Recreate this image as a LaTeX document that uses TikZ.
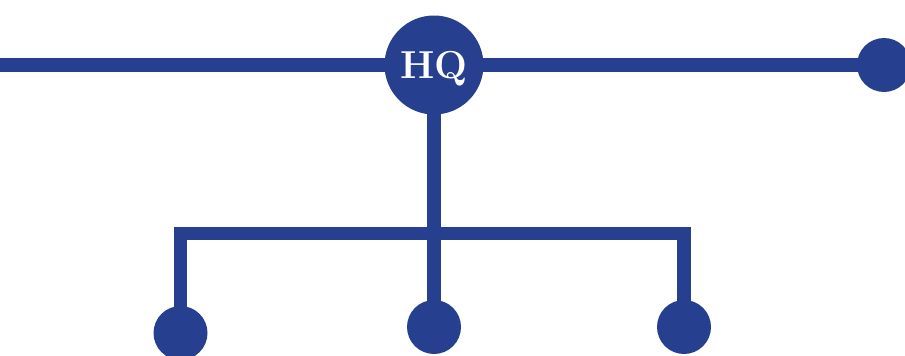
\documentclass[tikz,border=0pt]{standalone}
\usetikzlibrary{backgrounds}
\definecolor{hqblue}{RGB}{38,64,143}
\begin{document}
\begin{tikzpicture}[x=1pt,y=-1pt,
  conn/.style={draw=hqblue,line width=13.5pt,line join=miter},
  dot/.style={circle,fill=hqblue,inner sep=0pt,minimum size=54pt},
  hub/.style={circle,fill=hqblue,inner sep=0pt,minimum size=99pt,text=white,text depth=0pt,font=\fontsize{39}{39}\selectfont\bfseries}]
\useasboundingbox (0,0) rectangle (905,356);
\node[hub] (hq) at (434,65) {HQ};
\node[dot] (r) at (884,65) {};
\node[dot] (b1) at (180.5,333) {};
\node[dot] (b2) at (434,327) {};
\node[dot] (b3) at (684,327) {};
\coordinate (lend) at (0,65);
\coordinate (c1) at (180.5,233.5);
\coordinate (c3) at (684,233.5);
\begin{pgfonlayer}{background}
\draw[conn] (lend) -- (hq.center) -- (r.center);
\draw[conn] (hq.center) -- (b2.center);
\draw[conn] (b1.center) -- (c1) -- (c3) -- (b3.center);
\end{pgfonlayer}
\end{tikzpicture}
\end{document}
